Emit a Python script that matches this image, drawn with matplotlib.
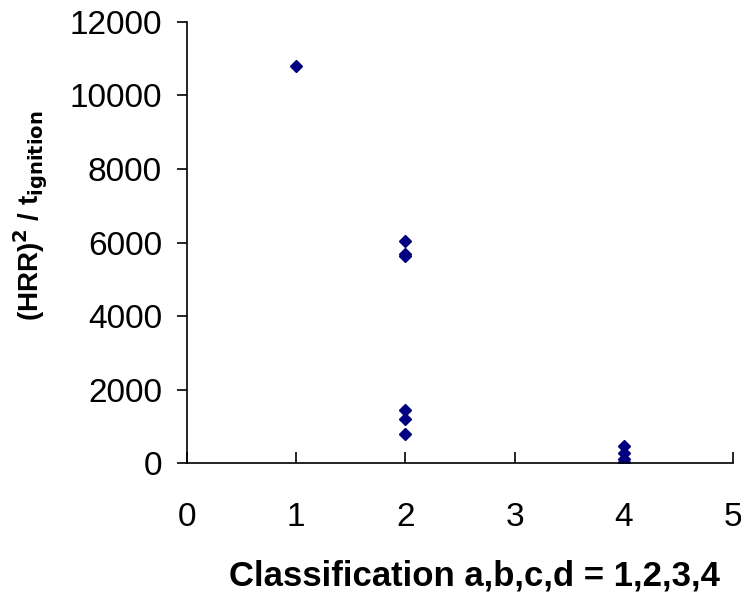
import numpy as np
import matplotlib.pyplot as plt

plt.rcParams['font.family'] = ['Liberation Sans', 'DejaVu Sans']

# classification (x) and (HRR)^2 / t_ignition (y)
cls = [1, 2, 2, 2, 2, 2, 2, 4, 4, 4, 4, 4]
hrr = [10800, 6040, 5700, 5640, 1450, 1200, 790, 460, 270, 100, 30, 10]

x_ticks = [0, 1, 2, 3, 4, 5]
y_ticks = [0, 2000, 4000, 6000, 8000, 10000, 12000]

fig = plt.figure(figsize=(7.41, 5.94), dpi=100)
ax = fig.add_axes([0.2524, 0.2205, 0.7366, 0.7425])

ax.plot(cls, hrr, linestyle='none', marker='D', markersize=6.3,
        color='#000080', markeredgecolor='#000080')

ax.set_xlim(0, 5)
ax.set_ylim(0, 12000)
ax.set_xticks(x_ticks)
ax.set_yticks(y_ticks)

ax.spines['top'].set_visible(False)
ax.spines['right'].set_visible(False)
for s in ['left', 'bottom']:
    ax.spines[s].set_linewidth(1.2)

ax.tick_params(axis='x', direction='in', length=8, width=1.2, pad=28, labelsize=24)
ax.tick_params(axis='y', direction='out', length=7, width=1.2, pad=11, labelsize=24)

ax.set_xlabel('Classification a,b,c,d = 1,2,3,4', fontsize=25, fontweight='bold', labelpad=19)
ax.xaxis.label.set_x(0.527)
ax.set_ylabel(r'(HRR)$^\mathbf{2}$ / t$_\mathbf{ignition}$', fontsize=20, fontweight='bold', labelpad=14)
ax.yaxis.label.set_y(0.56)

fig.savefig('out.png', dpi=100)
